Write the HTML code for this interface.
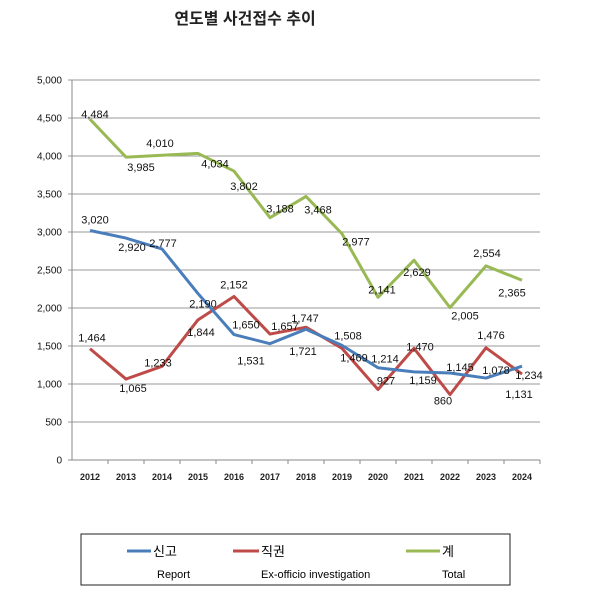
<!DOCTYPE html>
<html><head><meta charset="utf-8"><style>
body{margin:0;background:#fff;}
svg{display:block;font-family:"Liberation Sans","Noto Sans CJK KR",sans-serif;}
</style></head><body>
<svg width="600" height="592" id="c">
<text x="245" y="24" font-size="16" font-weight="bold" text-anchor="middle" fill="#222">연도별 사건접수 추이</text>
<g id="grid"></g><g id="lines"></g><g id="labels"></g>
<rect x="81" y="534" width="429" height="51" fill="none" stroke="#222" stroke-width="1"/>
<g>
<line x1="127" y1="551" x2="151" y2="551" stroke="#4a7ebb" stroke-width="3"/>
<text x="153" y="556" font-size="13">신고</text><text x="157" y="578" font-size="11">Report</text></g>
<g>
<line x1="233" y1="551" x2="259" y2="551" stroke="#be4b48" stroke-width="3"/>
<text x="261" y="556" font-size="13">직권</text><text x="261" y="578" font-size="11">Ex-officio investigation</text></g>
<g>
<line x1="406" y1="551" x2="440" y2="551" stroke="#98b954" stroke-width="3"/>
<text x="442" y="556" font-size="13">계</text><text x="442" y="578" font-size="11">Total</text></g>
</svg>
<script>
const years=["2012","2013","2014","2015","2016","2017","2018","2019","2020","2021","2022","2023","2024"];
const report=[3020,2920,2777,2190,1650,1531,1721,1508,1214,1159,1145,1078,1234];
const exofficio=[1464,1065,1233,1844,2152,1657,1747,1469,927,1470,860,1476,1131];
const total=[4484,3985,4010,4034,3802,3188,3468,2977,2141,2629,2005,2554,2365];
const yTicks=[0,500,1000,1500,2000,2500,3000,3500,4000,4500,5000];
const reportOff=[[5,-11],[6,9],[1,-6],[5,10],[12,-10],[-19,17],[-3,22],[6,-10],[7,-9],[9,8],[10,-6],[10,-8],[7,9]];
const exOff=[[2,-11],[7,9],[-4,-4],[3,12],[0,-12],[15,-8],[-1,-9],[12,9],[8,-9],[6,-2],[-7,6],[5,-13],[-3,20]];
const totalOff=[[5,-5],[15,10],[-2,-12],[17,10],[10,15],[10,-9],[12,13],[14,8],[4,-8],[3,12],[15,8],[1,-13],[-10,12]];
const NS="http://www.w3.org/2000/svg";
const L=72,R=540,T=80,B=460,band=(R-L)/years.length;
const xs=i=>L+band*(i+0.5), ys=v=>B-(v/5000)*(B-T);
const fmt=v=>v.toLocaleString("en-US");
function mk(t,a,p){const e=document.createElementNS(NS,t);for(const k in a)e.setAttribute(k,a[k]);p.appendChild(e);return e;}
const g=document.getElementById("grid");
yTicks.forEach(v=>{
 const l=mk("line",{x1:L-4,x2:R,y1:ys(v),y2:ys(v),stroke:v===0?"#888":"#999","stroke-width":1},g);
 
 
 const t=mk("text",{x:L-10,y:ys(v)+3.5,"font-size":10,"text-anchor":"end",fill:"#111"},g);t.textContent=fmt(v);
 
 
});
mk("line",{x1:L,x2:L,y1:T,y2:B,stroke:"#888"},g);
years.forEach((y,i)=>{
 mk("line",{x1:L+band*(i+1),x2:L+band*(i+1),y1:B,y2:B+4,stroke:"#888"},g);
 const t=mk("text",{x:xs(i),y:B+20,"font-size":9,"font-weight":"bold","text-anchor":"middle",fill:"#222"},g);t.textContent=y;
 
 
});
const ln=document.getElementById("lines"),lb=document.getElementById("labels");
[[total,"#98b954",totalOff,"total"],[exofficio,"#be4b48",exOff,"exofficio"],[report,"#4a7ebb",reportOff,"report"]].forEach(([d,c,off,n])=>{
 const p=mk("polyline",{points:d.map((v,i)=>xs(i)+","+ys(v)).join(" "),fill:"none",stroke:c,"stroke-width":3,"stroke-linejoin":"round"},ln);
 
 
 d.forEach((v,i)=>{
  const t=mk("text",{x:xs(i)+off[i][0],y:ys(v)+off[i][1]+4,"font-size":11,"text-anchor":"middle",fill:"#111"},lb);t.textContent=fmt(v);
  
  
 });
});
</script>
</body></html>
